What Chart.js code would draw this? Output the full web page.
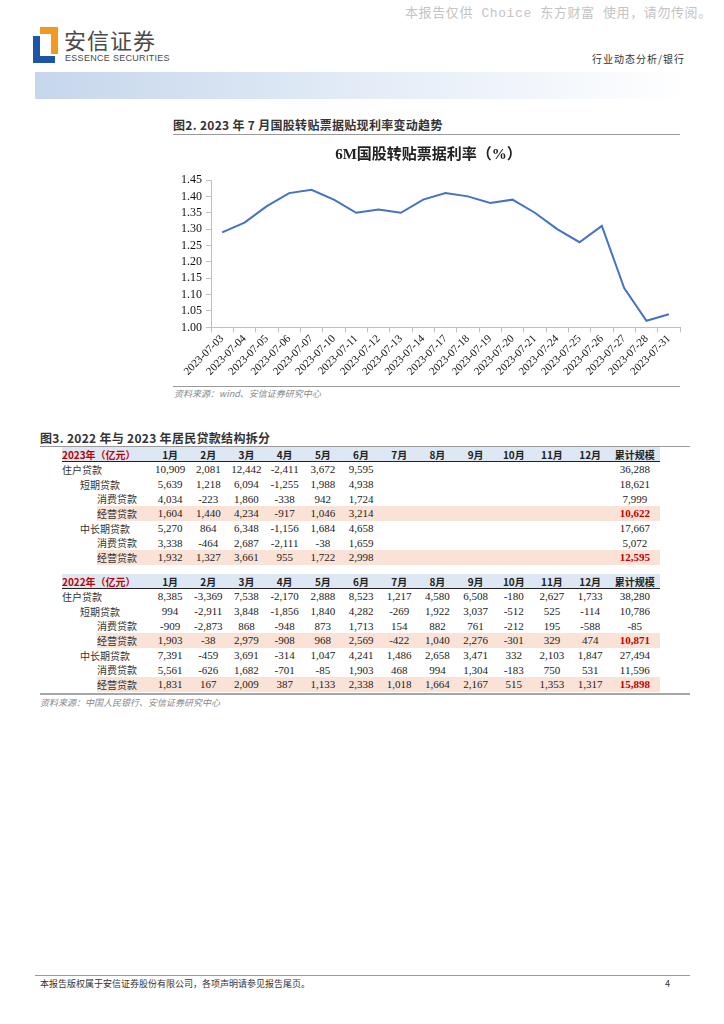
<!DOCTYPE html>
<html>
<head>
<meta charset="utf-8">
<script src="https://cdn.jsdelivr.net/npm/chart.js@4/dist/chart.umd.min.js"></script>
<style>
  body { margin: 0; background: #fff; font-family: "Noto Sans CJK SC", sans-serif; }
  .page { position: relative; width: 724px; height: 1024px; overflow: hidden; }
  .abs { position: absolute; }
  .watermark { left: 405px; top: 7px; font: 13px "Liberation Mono", "Noto Sans CJK SC", monospace; letter-spacing: 0.6px; color: #c4c4c4; white-space: nowrap; line-height: 1; }
  .logoBlue1 { left: 33px; top: 36px; width: 7px; height: 27px; background: #1f55a8; }
  .logoBlue2 { left: 33px; top: 56px; width: 22px; height: 7px; background: #1f55a8; }
  .logoOrg1 { left: 40px; top: 27px; width: 18px; height: 7px; background: #f29a1f; }
  .logoOrg2 { left: 51px; top: 27px; width: 7px; height: 27px; background: #f29a1f; }
  .brand { left: 64px; top: 28px; font: 22px "Noto Sans CJK SC", sans-serif; line-height: 1; color: #4a4a4a; letter-spacing: 1px; }
  .brandEn { left: 65px; top: 54px; font: 9px "Liberation Sans Narrow", "Liberation Sans", sans-serif; line-height: 1; color: #4a4a4a; letter-spacing: 0.3px; }
  .section { left: 592px; top: 54px; font: 10px "Noto Sans CJK SC", sans-serif; line-height: 1; letter-spacing: 1px; color: #333; }
  .band { left: 35px; top: 72px; width: 655px; height: 27px; background: linear-gradient(to right, #c6d6ec, #e6eef8 55%, #ffffff); }
  .figTitle { font: bold 12px "Noto Sans CJK SC", sans-serif; color: #333; white-space: nowrap; letter-spacing: 0.3px; }
  .rule { height: 1px; background: #9a9a9a; }
  .rule2 { height: 2px; background: #a6a6a6; }
  .source { font: italic 9px "Noto Sans CJK SC", sans-serif; color: #888; white-space: nowrap; }
  #chartBox { left: 177px; top: 140px; width: 505px; height: 238px; }
  table { border-collapse: collapse; table-layout: fixed; }
  td { padding: 0; height: 14.7px; line-height: 13px; font: 11px "Liberation Serif", serif; color: #222; text-align: center; white-space: nowrap; overflow: visible; }
  td.lab { text-align: left; font: 10px "Noto Sans CJK SC", sans-serif; line-height: 13px; color: #333; }
  tr.head td { background: #dde8f4; font: bold 10px "Noto Sans CJK SC", sans-serif; line-height: 13px; color: #222; border-bottom: 1.5px solid #222; height: 14px; }
  tr.head td.yr { color: #c00000; text-align: left; }
  tr.pink td.p { background: #fbe2d6; }
  td.red { color: #c00000; font-weight: bold; }
  .footer { left: 40px; top: 977px; font: 9px "Noto Sans CJK SC", sans-serif; color: #333; white-space: nowrap; }
</style>
</head>
<body>
<div class="page">
  <div class="abs watermark">本报告仅供 Choice 东方财富 使用，请勿传阅。</div>
  <div class="abs logoBlue1"></div>
  <div class="abs logoBlue2"></div>
  <div class="abs logoOrg1"></div>
  <div class="abs logoOrg2"></div>
  <div class="abs brand">安信证券</div>
  <div class="abs brandEn">ESSENCE SECURITIES</div>
  <div class="abs section">行业动态分析/银行</div>
  <div class="abs band"></div>

  <div class="abs figTitle" style="left:173px; top:116px;">图2. 2023 年 7 月国股转贴票据贴现利率变动趋势</div>
  <div class="abs rule" style="left:173px; top:134px; width:507px;"></div>
  <div class="abs" id="chartBox"><canvas id="rateChart"></canvas></div>
  <div class="abs rule" style="left:173px; top:386px; width:507px;"></div>
  <div class="abs source" style="left:174px; top:387px;">资料来源：wind、安信证券研究中心</div>

  <div class="abs figTitle" style="left:40px; top:429px;">图3. 2022 年与 2023 年居民贷款结构拆分</div>
  <div class="abs rule" style="left:40px; top:446px; width:650px;"></div>
  <div class="abs" id="tbl2023" style="left:62px; top:447px;"></div>
  <div class="abs" id="tbl2022" style="left:62px; top:574px;"></div>
  <div class="abs rule2" style="left:40px; top:693px; width:650px;"></div>
  <div class="abs source" style="left:40px; top:696px;">资料来源：中国人民银行、安信证券研究中心</div>

  <div class="abs rule" style="left:35px; top:975px; width:655px;"></div>
  <div class="abs footer">本报告版权属于安信证券股份有限公司，各项声明请参见报告尾页。</div>
  <div class="abs footer" style="left:665px;">4</div>
</div>

<script>
// chart data
const dates = ["2023-07-03", "2023-07-04", "2023-07-05", "2023-07-06", "2023-07-07",
  "2023-07-10", "2023-07-11", "2023-07-12", "2023-07-13", "2023-07-14",
  "2023-07-17", "2023-07-18", "2023-07-19", "2023-07-20", "2023-07-21",
  "2023-07-24", "2023-07-25", "2023-07-26", "2023-07-27", "2023-07-28", "2023-07-31"];
const rates = [1.29, 1.32, 1.37, 1.41, 1.42, 1.39, 1.35, 1.36, 1.35, 1.39,
  1.41, 1.40, 1.38, 1.39, 1.35, 1.30, 1.26, 1.31, 1.12, 1.02, 1.04];
const yTicks = ["1.00", "1.05", "1.10", "1.15", "1.20", "1.25", "1.30", "1.35", "1.40", "1.45"];

// table data
const months = ["1月", "2月", "3月", "4月", "5月", "6月", "7月", "8月", "9月", "10月", "11月", "12月"];
const rowLabels = ["住户贷款", "短期贷款", "消费贷款", "经营贷款", "中长期贷款", "消费贷款", "经营贷款"];
const rowIndent = [0, 1, 2, 2, 1, 2, 2];
const loans2023 = [
  [10909, 2081, 12442, -2411, 3672, 9595],
  [5639, 1218, 6094, -1255, 1988, 4938],
  [4034, -223, 1860, -338, 942, 1724],
  [1604, 1440, 4234, -917, 1046, 3214],
  [5270, 864, 6348, -1156, 1684, 4658],
  [3338, -464, 2687, -2111, -38, 1659],
  [1932, 1327, 3661, 955, 1722, 2998]
];
const total2023 = [36288, 18621, 7999, 10622, 17667, 5072, 12595];
const loans2022 = [
  [8385, -3369, 7538, -2170, 2888, 8523, 1217, 4580, 6508, -180, 2627, 1733],
  [994, -2911, 3848, -1856, 1840, 4282, -269, 1922, 3037, -512, 525, -114],
  [-909, -2873, 868, -948, 873, 1713, 154, 882, 761, -212, 195, -588],
  [1903, -38, 2979, -908, 968, 2569, -422, 1040, 2276, -301, 329, 474],
  [7391, -459, 3691, -314, 1047, 4241, 1486, 2658, 3471, 332, 2103, 1847],
  [5561, -626, 1682, -701, -85, 1903, 468, 994, 1304, -183, 750, 531],
  [1831, 167, 2009, 387, 1133, 2338, 1018, 1664, 2167, 515, 1353, 1317]
];
const total2022 = [38280, 10786, -85, 10871, 27494, 11596, 15898];

function fmt(v) {
  return v.toLocaleString("en-US");
}

function buildTable(el, title, data, totals) {
  let h = '<table><colgroup><col style="width:18px"><col style="width:17px"><col style="width:54px">';
  for (let i = 0; i < 12; i++) h += '<col style="width:38.2px">';
  h += '<col style="width:51px"></colgroup>';
  h += '<tr class="head"><td class="yr" colspan="3">' + title + '</td>';
  months.forEach(m => { h += '<td>' + m + '</td>'; });
  h += '<td>累计规模</td></tr>';
  rowLabels.forEach((lab, r) => {
    const pink = lab === "经营贷款";
    h += '<tr class="' + (pink ? 'pink' : '') + '">';
    const ind = rowIndent[r];
    for (let k = 0; k < ind; k++) h += '<td></td>';
    h += '<td class="lab p" colspan="' + (3 - ind) + '">' + lab + '</td>';
    for (let c = 0; c < 12; c++) {
      const v = data[r][c];
      h += '<td class="p">' + (v === undefined ? '' : fmt(v)) + '</td>';
    }
    h += '<td class="p' + (pink ? ' red' : '') + '">' + fmt(totals[r]) + '</td></tr>';
  });
  h += '</table>';
  el.innerHTML = h;
}

buildTable(document.getElementById("tbl2023"), "2023年（亿元）", loans2023, total2023);
buildTable(document.getElementById("tbl2022"), "2022年（亿元）", loans2022, total2022);

// line chart
const rateChart = new Chart(document.getElementById("rateChart"), {
  type: "line",
  data: {
    labels: dates,
    datasets: [{
      data: rates,
      borderColor: "#4472C4",
      borderWidth: 2,
      pointRadius: 0,
      tension: 0,
      fill: false
    }]
  },
  options: {
    responsive: true,
    maintainAspectRatio: false,
    animation: false,
    layout: { padding: { left: 0, right: 2, top: 0, bottom: 0 } },
    plugins: {
      legend: { display: false },
      tooltip: { enabled: false },
      title: {
        display: true,
        text: "6M国股转贴票据利率（%）",
        color: "#222",
        font: { family: "'Liberation Serif', 'Noto Sans CJK SC', serif", size: 15, weight: "bold" },
        padding: { top: 6, bottom: 16 }
      }
    },
    scales: {
      x: {
        offset: true,
        grid: { drawOnChartArea: false, offset: true, tickLength: 5, color: "#bfbfbf" },
        border: { color: "#bfbfbf" },
        ticks: {
          maxRotation: 45,
          minRotation: 45,
          autoSkip: false,
          padding: 0,
          color: "#111",
          font: { family: "'Liberation Serif', serif", size: 11 }
        }
      },
      y: {
        min: 1.0,
        max: 1.45,
        grid: { drawOnChartArea: false, tickLength: 5, color: "#bfbfbf" },
        border: { color: "#bfbfbf" },
        afterBuildTicks: axis => {
          axis.ticks = yTicks.map(t => ({ value: parseFloat(t) }));
        },
        ticks: {
          autoSkip: false,
          padding: 4,
          color: "#111",
          font: { family: "'Liberation Serif', serif", size: 12 },
          callback: v => v.toFixed(2)
        }
      }
    }
  }
});
</script>
</body>
</html>
